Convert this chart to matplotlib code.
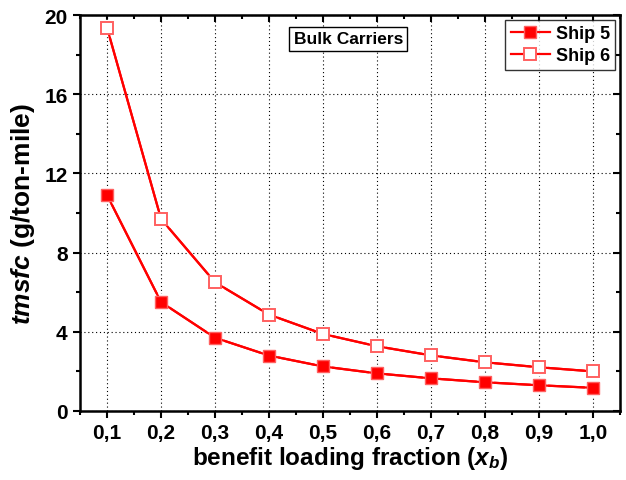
import numpy as np
import matplotlib.pyplot as plt
from matplotlib.ticker import MultipleLocator, FuncFormatter

plt.rcParams['font.family'] = ['Liberation Sans', 'DejaVu Sans']
plt.rcParams['font.weight'] = 'bold'
plt.rcParams['axes.labelweight'] = 'bold'
plt.rcParams['mathtext.fontset'] = 'custom'
plt.rcParams['mathtext.rm'] = 'Liberation Sans:bold'
plt.rcParams['mathtext.it'] = 'Liberation Sans:italic:bold'

# benefit loading fraction and fuel consumption per ship
xb = [0.1, 0.2, 0.3, 0.4, 0.5, 0.6, 0.7, 0.8, 0.9, 1.0]
ship5 = [10.9, 5.5, 3.7, 2.8, 2.25, 1.9, 1.65, 1.45, 1.3, 1.17]
ship6 = [19.35, 9.7, 6.5, 4.87, 3.89, 3.27, 2.81, 2.46, 2.21, 2.0]

fig = plt.figure(figsize=(6.26, 4.81), dpi=100)
ax = fig.add_axes([0.128, 0.1435, 0.862, 0.823])

red = '#ff0000'
ms = 8.2

# curves with a small white halo round each marker so the line stops short
for y in (ship5, ship6):
    ax.plot(xb, y, color=red, lw=1.6, zorder=3)
    ax.plot(xb, y, ls='none', marker='s', ms=ms + 3.2, mfc='white', mec='white', zorder=4)
ax.plot(xb, ship5, color=red, lw=1.6, marker='s', ms=ms, mfc=red, mec='#ff6060',
        mew=1.0, label='Ship 5', zorder=5)
ax.plot(xb, ship6, color=red, lw=1.6, marker='s', ms=ms, mfc='white', mec='#ff6060',
        mew=1.4, label='Ship 6', zorder=5)

ax.set_xlim(0.05, 1.05)
ax.set_ylim(0, 20)
ax.xaxis.set_major_locator(MultipleLocator(0.1))
ax.xaxis.set_minor_locator(MultipleLocator(0.05))
ax.yaxis.set_major_locator(MultipleLocator(4))
ax.yaxis.set_minor_locator(MultipleLocator(2))
ax.xaxis.set_major_formatter(FuncFormatter(lambda v, p: f'{v:.1f}'.replace('.', ',')))
ax.yaxis.set_major_formatter(FuncFormatter(lambda v, p: f'{v:.0f}'))

ax.tick_params(which='major', direction='out', length=5, width=1.5, labelsize=15, pad=4)
ax.tick_params(which='minor', direction='out', length=3, width=1.5)
for s in ax.spines.values():
    s.set_linewidth(1.8)

ax.grid(True, which='major', color='black', ls=(0, (1, 2.5)), lw=0.8)

# tick marks on the top and right frame, pointing inward
top = ax.secondary_xaxis('top')
top.xaxis.set_major_locator(MultipleLocator(0.1))
top.xaxis.set_minor_locator(MultipleLocator(0.05))
top.tick_params(which='major', direction='in', length=5, width=1.5, labeltop=False)
top.tick_params(which='minor', direction='in', length=3, width=1.5)
right = ax.secondary_yaxis('right')
right.yaxis.set_major_locator(MultipleLocator(4))
right.yaxis.set_minor_locator(MultipleLocator(2))
right.tick_params(which='major', direction='in', length=5, width=1.5, labelright=False)
right.tick_params(which='minor', direction='in', length=3, width=1.5)

ax.set_xlabel(r'benefit loading fraction ($x_b$)', fontsize=17.5, labelpad=1)
ax.set_ylabel(r'$tmsfc$ (g/ton-mile)', fontsize=19, labelpad=5)

ax.text(0.497, 0.94, 'Bulk Carriers', transform=ax.transAxes, fontsize=12.5,
        ha='center', va='center',
        bbox=dict(boxstyle='square,pad=0.25', fc='white', ec='black', lw=1.0))

leg = ax.legend(loc='upper right', fontsize=13, frameon=True, fancybox=False,
                handlelength=2.2, borderaxespad=0.25, labelspacing=0.3,
                handletextpad=0.3, borderpad=0.3)
leg.get_frame().set_edgecolor('black')
leg.get_frame().set_linewidth(1.0)
leg.set_zorder(10)

fig.savefig('out.png', dpi=100)
